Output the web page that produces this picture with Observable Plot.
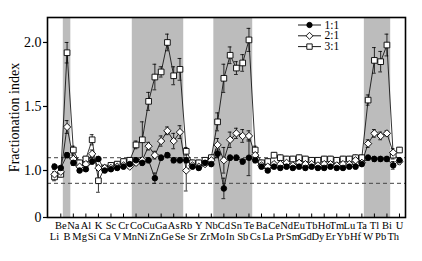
<!DOCTYPE html>
<html><head><meta charset="utf-8">
<script src="https://cdn.jsdelivr.net/npm/d3@7"></script>
<script src="https://cdn.jsdelivr.net/npm/@observablehq/plot@0.6"></script>
<style>
body{margin:0;background:#fff;}
svg{font-family:"Liberation Serif","DejaVu Serif",serif;}
</style>
</head><body><div id="chart"></div>
<script>
const elements = ["Li","Be","B","Na","Mg","Al","Si","K","Ca","Sc","V","Cr","Mn","Co","Ni","Cu","Zn","Ga","Ge","As","Se","Rb","Sr","Y","Zr","Nb","Mo","Cd","In","Sn","Sb","Te","Cs","Ba","La","Ce","Pr","Nd","Sm","Eu","Gd","Tb","Dy","Ho","Er","Tm","Yb","Lu","Hf","Ta","W","Tl","Pb","Bi","Th","U"];

const ratio11 = [1.03,1.02,1.12,1.06,1.00,1.01,1.07,1.09,1.00,1.01,1.02,1.03,1.05,1.08,1.06,1.08,0.94,1.10,1.12,1.08,1.08,1.08,1.03,1.02,1.06,1.05,1.13,0.86,1.10,1.10,1.07,1.10,1.08,1.03,1.00,1.03,1.02,1.03,1.02,1.03,1.02,1.03,1.02,1.02,1.03,1.02,1.02,1.03,1.03,1.05,1.10,1.09,1.09,1.09,1.04,1.08];
const err11   = [0.02,0.015,0.02,0.02,0.015,0.015,0.02,0.02,0.015,0.015,0.015,0.015,0.015,0.02,0.02,0.02,0.04,0.02,0.02,0.02,0.02,0.02,0.015,0.015,0.015,0.015,0.03,0.08,0.02,0.02,0.02,0.14,0.02,0.015,0.015,0.015,0.015,0.015,0.015,0.015,0.015,0.015,0.015,0.015,0.015,0.015,0.015,0.015,0.015,0.015,0.02,0.02,0.02,0.02,0.03,0.02];

const ratio21 = [0.97,0.99,1.34,1.09,1.03,1.05,1.13,1.02,1.02,1.02,1.03,1.04,1.03,1.06,1.08,1.19,1.12,1.23,1.31,1.23,1.30,1.00,1.04,1.03,1.05,1.08,1.20,1.08,1.24,1.29,1.27,1.27,1.12,1.04,1.03,1.05,1.05,1.06,1.04,1.06,1.05,1.05,1.04,1.05,1.05,1.04,1.05,1.05,1.08,1.06,1.21,1.29,1.27,1.29,1.14,1.07];
const err21   = [0.02,0.015,0.05,0.03,0.015,0.015,0.03,0.02,0.015,0.015,0.015,0.015,0.015,0.02,0.02,0.03,0.03,0.04,0.03,0.06,0.05,0.16,0.015,0.015,0.015,0.02,0.05,0.10,0.06,0.04,0.05,0.04,0.03,0.015,0.015,0.015,0.015,0.015,0.015,0.015,0.015,0.015,0.015,0.015,0.015,0.015,0.015,0.015,0.02,0.02,0.03,0.03,0.03,0.02,0.03,0.02];

const ratio31 = [0.95,0.97,1.92,1.16,1.06,1.09,1.24,0.92,1.02,1.04,1.05,1.07,1.08,1.20,1.24,1.54,1.73,1.77,2.00,1.74,1.79,1.15,1.06,1.06,1.08,1.10,1.38,1.72,1.90,1.80,1.84,2.02,1.16,1.06,1.07,1.12,1.10,1.09,1.09,1.10,1.09,1.08,1.08,1.09,1.09,1.08,1.09,1.09,1.10,1.10,1.55,1.86,1.85,1.98,1.12,1.16];
const err31   = [0.03,0.02,0.08,0.03,0.02,0.02,0.04,0.09,0.02,0.02,0.02,0.02,0.02,0.03,0.14,0.07,0.10,0.04,0.065,0.07,0.085,0.03,0.02,0.02,0.02,0.02,0.07,0.11,0.065,0.05,0.065,0.09,0.03,0.02,0.02,0.02,0.02,0.02,0.02,0.02,0.02,0.02,0.02,0.02,0.02,0.02,0.02,0.02,0.02,0.02,0.04,0.10,0.08,0.085,0.03,0.02];

const seriesNames = ["1:1","2:1","3:1"];
const bands = [["B","B"],["Co","Se"],["Mo","Te"],["W","Bi"]];
const yTicks = [1.0,1.5,2.0];
const dashedLevels = [0.9,1.1];
const yLabel = "Fractionation index";

const seriesValues = [ratio11, ratio21, ratio31];
const seriesErrors = [err11, err21, err31];
const rows = [];
seriesNames.forEach((name, s) => {
  elements.forEach((el, i) => rows.push({series: name, s, i, el, v: seriesValues[s][i], e: seriesErrors[s][i]}));
});
const idx = name => elements.indexOf(name);

const Y0 = 0.633, Y1 = 2.195;
const lineSym = {draw(ctx){ ctx.moveTo(-11.5,0); ctx.lineTo(11.5,0); }};
const symbols = [
  {symbol: "circle", fill: "black", r: 2.8},
  {symbol: "diamond2", fill: "white", r: 3.3},
  {symbol: "square", fill: "white", r: 3.2}
];

const marks = [
  Plot.rect(bands, {x1: d => idx(d[0]) - 0.6, x2: d => idx(d[1]) + 0.6, y1: Y0, y2: Y1, fill: "#bcbcbc"}),
  Plot.ruleY(dashedLevels, {stroke: "#444", strokeWidth: 1, strokeDasharray: "4,3"}),
  Plot.line(rows, {x: "i", y: "v", z: "series", stroke: "black", strokeWidth: 0.8}),
  Plot.ruleX(rows, {x: "i", y1: d => d.v - d.e, y2: d => d.v + d.e, stroke: "black", strokeWidth: 0.8}),
  Plot.ruleY(rows, {y: d => d.v + d.e, x1: d => d.i - 0.3, x2: d => d.i + 0.3, stroke: "black", strokeWidth: 0.8}),
  Plot.ruleY(rows, {y: d => d.v - d.e, x1: d => d.i - 0.3, x2: d => d.i + 0.3, stroke: "black", strokeWidth: 0.8})
];
[2,1,0].forEach(s => {
  marks.push(Plot.dot(rows.filter(d => d.s === s), {x: "i", y: "v", symbol: symbols[s].symbol, r: symbols[s].r, fill: symbols[s].fill, stroke: "black", strokeWidth: 0.9}));
});
// legend
seriesNames.forEach((name, s) => {
  const dy = 7.5 + s * 10.8;
  marks.push(Plot.dot([name], {frameAnchor: "top-left", dx: 262, dy, symbol: lineSym, stroke: "black", strokeWidth: 0.9, fill: "none"}));
  marks.push(Plot.dot([name], {frameAnchor: "top-left", dx: 262, dy, symbol: symbols[s].symbol, r: symbols[s].r * 0.95, fill: symbols[s].fill, stroke: "black", strokeWidth: 0.9}));
  marks.push(Plot.text([name], {frameAnchor: "top-left", dx: 277, dy, text: d => d, textAnchor: "start", lineAnchor: "middle", fontSize: 11.5, fill: "black"}));
});
marks.push(
  Plot.frame({stroke: "black", strokeWidth: 1.6}),
  Plot.axisY({ticks: [Y0, ...yTicks], tickFormat: d => d === Y0 ? "0" : d.toFixed(1), tickSize: 4, tickPadding: 2, fontSize: 14, label: null, stroke: "black", strokeWidth: 1.2}),
  Plot.text([yLabel], {frameAnchor: "left", dx: -33, rotate: -90, textAnchor: "middle", fontSize: 14, fill: "black"}),
  Plot.axisX({ticks: elements.map((d,i)=>i).filter(i => i % 2 === 1), tickSize: 3.5, dy: -3.5, tickFormat: () => "", label: null, stroke: "black"}),
  Plot.axisX({ticks: elements.map((d,i)=>i).filter(i => i % 2 === 1), tickFormat: i => elements[i], tickSize: 0, tickPadding: 4.5, fontSize: 10.5, label: null}),
  Plot.axisX({ticks: elements.map((d,i)=>i).filter(i => i % 2 === 0), tickFormat: i => elements[i], tickSize: 0, tickPadding: 15.5, fontSize: 10.5, label: null})
);

const chart = Plot.plot({
  width: 422, height: 261,
  marginLeft: 47, marginRight: 17, marginTop: 17, marginBottom: 44,
  x: {domain: [-1.12, 55.96], axis: null},
  y: {domain: [Y0, Y1], axis: null},
  style: {fontFamily: "Liberation Serif, serif", background: "white", color: "black", overflow: "visible"},
  marks
});
document.getElementById("chart").appendChild(chart);
</script>
</body></html>
